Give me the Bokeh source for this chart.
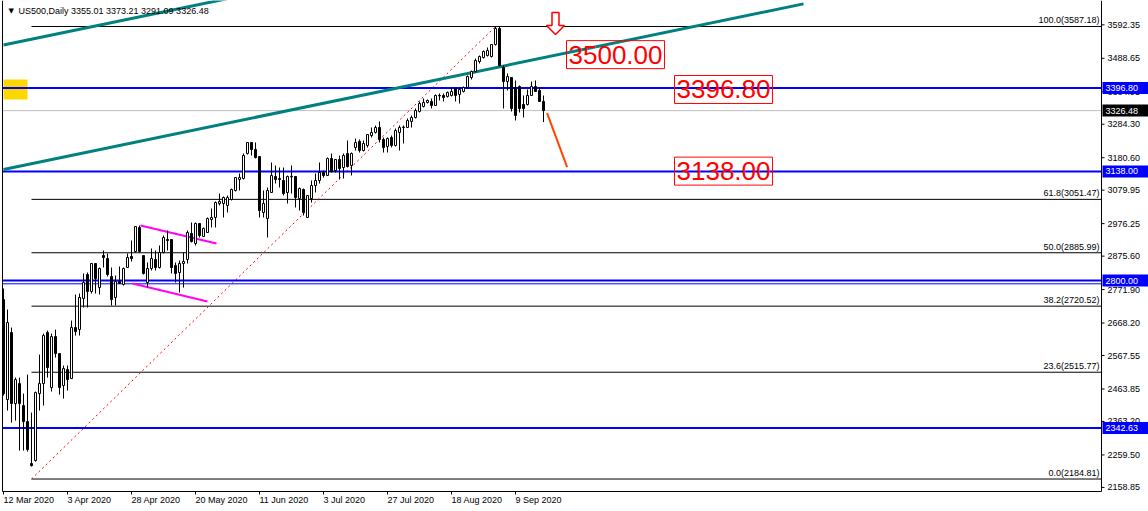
from bokeh.plotting import figure
from bokeh.models import Range1d, ColumnDataSource
from bokeh.embed import file_html
from bokeh.resources import INLINE
from bokeh.core.properties import value

# ---------------- data ----------------
opens = [2741.1, 2431.0, 2638.7, 2418.6, 2480.6, 2412.4, 2362.8, 2232.6, 2241.9, 2449.6,
         2480.6, 2638.7, 2468.2, 2626.3, 2573.6, 2474.4, 2524.0, 2496.1, 2654.2, 2648.0,
         2744.2, 2818.6, 2765.9, 2852.7, 2778.3, 2877.5, 2868.2, 2812.4, 2747.3, 2796.9,
         2787.6, 2840.3, 2874.4, 2889.9, 2964.3, 2877.5, 2793.8, 2837.2, 2865.1, 2840.3,
         2886.8, 2927.1, 2927.1, 2846.5, 2824.8, 2852.7, 2865.1, 2945.7, 2914.7, 2976.7,
         2936.4, 2948.8, 2989.1, 2995.3, 3038.6, 3038.6, 3032.5, 3051.0, 3078.9, 3113.0,
         3116.1, 3193.6, 3227.7, 3206.0, 3184.3, 3010.8, 2992.2, 3072.7, 3122.3, 3116.1,
         3109.9, 3072.7, 3121.0, 3122.3, 3054.1, 3082.0, 2995.3, 3054.1, 3094.4, 3109.9,
         3134.7, 3125.4, 3178.1, 3140.9, 3175.0, 3150.2, 3193.6, 3156.4, 3212.2, 3230.8,
         3202.9, 3218.4, 3249.4, 3258.7, 3274.2, 3237.0, 3215.3, 3243.2, 3218.4, 3258.7,
         3274.2, 3274.2, 3292.8, 3305.2, 3323.8, 3339.3, 3351.7, 3354.8, 3342.4, 3373.4,
         3373.4, 3370.3, 3373.4, 3395.1, 3376.5, 3385.8, 3398.2, 3429.1, 3447.7, 3478.7,
         3491.1, 3497.3, 3494.2, 3531.4, 3581.0, 3460.1, 3416.7, 3429.1, 3398.2, 3401.3,
         3345.5, 3345.5, 3373.4, 3401.3, 3388.9, 3355.01]
highs = [2775.2, 2710.0, 2654.2, 2499.2, 2499.2, 2449.6, 2508.5, 2390.7, 2455.8, 2570.5,
         2635.6, 2644.9, 2635.6, 2648.0, 2573.6, 2536.4, 2536.4, 2675.9, 2756.6, 2759.7,
         2821.7, 2824.8, 2852.7, 2852.7, 2840.3, 2893.0, 2883.7, 2840.3, 2815.5, 2843.4,
         2840.3, 2883.7, 2924.0, 2967.4, 2970.5, 2877.5, 2855.8, 2899.2, 2893.0, 2908.5,
         2939.5, 2955.0, 2927.1, 2855.8, 2862.0, 2886.8, 2955.0, 2979.8, 2979.8, 2976.7,
         2964.3, 2995.3, 3023.2, 3044.8, 3069.6, 3060.3, 3063.4, 3085.1, 3119.2, 3131.6,
         3193.6, 3227.7, 3227.7, 3227.7, 3184.3, 3078.9, 3088.2, 3165.7, 3156.4, 3150.2,
         3150.2, 3125.4, 3156.4, 3122.3, 3088.2, 3085.1, 3063.4, 3109.9, 3131.6, 3165.7,
         3140.9, 3181.2, 3193.6, 3175.0, 3187.4, 3193.6, 3233.9, 3196.7, 3240.1, 3237.0,
         3233.9, 3252.5, 3274.2, 3280.4, 3292.8, 3243.2, 3243.2, 3249.4, 3271.1, 3280.4,
         3280.4, 3302.1, 3311.4, 3333.1, 3354.8, 3364.1, 3361.0, 3364.1, 3376.5, 3379.6,
         3379.6, 3385.8, 3395.1, 3398.2, 3398.2, 3401.3, 3435.3, 3450.8, 3488.0, 3497.3,
         3512.8, 3522.1, 3531.4, 3587.2, 3587.2, 3466.3, 3441.5, 3429.1, 3419.8, 3404.4,
         3373.4, 3392.0, 3416.7, 3419.8, 3398.2, 3373.21]
lows = [2443.4, 2396.9, 2359.7, 2365.9, 2272.9, 2272.9, 2269.8, 2223.3, 2238.8, 2396.9,
        2412.4, 2499.2, 2455.8, 2561.2, 2446.5, 2434.1, 2458.9, 2496.1, 2629.4, 2629.4,
        2716.3, 2716.3, 2759.7, 2759.7, 2756.6, 2840.3, 2812.4, 2722.5, 2722.5, 2790.7,
        2784.5, 2840.3, 2858.9, 2886.8, 2886.8, 2818.6, 2778.3, 2831.0, 2831.0, 2837.2,
        2883.7, 2893.0, 2821.7, 2793.8, 2762.8, 2778.3, 2852.7, 2917.8, 2908.5, 2933.3,
        2936.4, 2948.8, 2964.3, 2964.3, 3032.5, 2995.3, 3010.8, 3047.9, 3075.8, 3078.9,
        3113.0, 3190.5, 3187.4, 3178.1, 2995.3, 2995.3, 2933.3, 3072.7, 3100.6, 3088.2,
        3063.4, 3038.6, 3069.6, 3026.3, 3017.0, 3001.5, 2995.3, 3041.7, 3072.7, 3100.6,
        3119.2, 3125.4, 3134.7, 3134.7, 3113.0, 3116.1, 3150.2, 3125.4, 3202.9, 3196.7,
        3199.8, 3212.2, 3243.2, 3255.6, 3227.7, 3196.7, 3196.7, 3212.2, 3215.3, 3202.9,
        3224.6, 3274.2, 3274.2, 3302.1, 3320.7, 3336.2, 3348.6, 3333.1, 3342.4, 3357.9,
        3354.8, 3367.2, 3370.3, 3354.8, 3348.6, 3382.7, 3395.1, 3422.9, 3444.6, 3472.5,
        3488.0, 3494.2, 3491.1, 3528.3, 3463.2, 3333.1, 3388.9, 3323.8, 3295.9, 3320.7,
        3305.2, 3342.4, 3373.4, 3385.8, 3354.8, 3291.09]
closes = [2449.6, 2669.7, 2418.6, 2493.0, 2418.6, 2362.8, 2276.0, 2226.4, 2452.7, 2480.6,
          2629.4, 2530.2, 2626.3, 2573.6, 2468.2, 2527.1, 2493.0, 2654.2, 2641.8, 2747.3,
          2793.8, 2765.9, 2852.7, 2806.2, 2837.2, 2871.3, 2818.6, 2741.1, 2796.9, 2790.7,
          2837.2, 2871.3, 2868.2, 2967.4, 2889.9, 2821.7, 2837.2, 2868.2, 2840.3, 2886.8,
          2933.3, 2924.0, 2840.3, 2821.7, 2852.7, 2858.9, 2948.8, 2920.9, 2976.7, 2939.5,
          2961.2, 2992.2, 2995.3, 3041.7, 3044.8, 3057.2, 3057.2, 3082.0, 3119.2, 3119.2,
          3187.4, 3227.7, 3206.0, 3181.2, 3017.0, 3038.6, 3078.9, 3125.4, 3113.0, 3113.0,
          3069.6, 3122.3, 3123.0, 3057.2, 3085.1, 3010.8, 3063.4, 3094.4, 3109.9, 3134.7,
          3125.4, 3178.1, 3137.8, 3175.0, 3147.1, 3187.4, 3153.3, 3193.6, 3227.7, 3202.9,
          3224.6, 3252.5, 3258.7, 3274.2, 3237.0, 3212.2, 3240.1, 3218.4, 3264.9, 3274.2,
          3275.5, 3295.9, 3305.2, 3326.9, 3348.6, 3351.7, 3357.9, 3342.4, 3373.4, 3372.0,
          3367.2, 3382.7, 3385.8, 3373.4, 3392.0, 3398.2, 3432.2, 3447.7, 3481.8, 3494.2,
          3509.7, 3512.8, 3531.4, 3581.0, 3466.3, 3416.7, 3432.2, 3333.1, 3311.4, 3333.1,
          3333.1, 3373.4, 3401.3, 3385.8, 3354.8, 3326.48]

date_ticks = [0, 16, 32, 48, 64, 80, 96, 112, 128]
date_labels = ["12 Mar 2020", "3 Apr 2020", "28 Apr 2020", "20 May 2020", "11 Jun 2020",
               "3 Jul 2020", "27 Jul 2020", "18 Aug 2020", "9 Sep 2020"]
price_ticks = [3592.35, 3488.65, 3384.95, 3284.30, 3180.60, 3079.95, 2976.25, 2875.60,
               2771.90, 2668.20, 2567.55, 2463.85, 2363.20, 2259.50, 2158.85]

fib_ratios = ["100.0", "61.8", "50.0", "38.2", "23.6", "0.0"]
fib_prices = [3587.18, 3051.47, 2885.99, 2720.52, 2515.77, 2184.81]
fib_bars = [7, 123]

blue_levels = [3396.80, 3138.00, 2800.00, 2342.63]
blue_thin_level = 2789.8
bid_price = 3326.48

channel_x = [0, 200]
channel_lower = [3144.0, 3657.2]
channel_upper = [3529.8, 4043.0]

proj_x = [135.9, 140.9]
proj_y = [3318.5, 3151.1]

mag_upper_x = [34.25, 53.25]
mag_upper_y = [2970.5, 2914.7]
mag_lower_x = [32.25, 51.0]
mag_lower_y = [2790.7, 2735.0]

target_texts = ["3500.00", "3396.80", "3138.00"]
target_x = [140.75, 167.75, 167.75]
target_y = [3500.0, 3392.0, 3139.0]

arrow_bar, arrow_tip = 138.0, 3562.4
yellow_box = dict(left=0.0, right=6.0, top=3422.9, bottom=3360.9)

title_text = "US500,Daily  3355.01 3373.21 3291.09 3326.48"

# ---------------- geometry (MetaTrader-like window) ----------------
W, H = 1148, 511
PX_BAR = 4.0            # pixels per bar
PX_PRICE = 3.099        # price units per pixel
XL = -0.75              # left edge of canvas (bars)
XR = XL + W / PX_BAR    # right edge of canvas
YT = 3667.75            # top of canvas (price)
YB = YT - H * PX_PRICE  # bottom of canvas
X_AX = 274.5            # right price-axis position (bars)
Y_AX = YT - 491 * PX_PRICE  # bottom time-axis position (price)
X_LEFT = -0.25          # chart left border

FONT = "Liberation Sans"
FS = "9px"
BIG_FONT = "Liberation Sans"


def dx(px):
    return px / PX_BAR


def dy(px):
    return px * PX_PRICE


p = figure(width=W, height=H, x_range=Range1d(XL, XR), y_range=Range1d(YB, YT),
           x_axis_location=None, y_axis_location=None, toolbar_location=None,
           output_backend="svg", min_border=0)
p.xgrid.visible = False
p.ygrid.visible = False
p.outline_line_color = None
p.background_fill_color = "white"
p.border_fill_color = "white"

# yellow box
p.quad(left=[yellow_box["left"]], right=[yellow_box["right"]], top=[yellow_box["top"]],
       bottom=[yellow_box["bottom"]], fill_color="#FFD700", line_color=None)

# bid line
p.segment(x0=[X_LEFT], x1=[X_AX], y0=[bid_price], y1=[bid_price], line_color="#C0C0C0",
          line_width=1)

# fibonacci levels
p.segment(x0=[fib_bars[0]] * len(fib_prices), x1=[X_AX] * len(fib_prices),
          y0=fib_prices, y1=fib_prices, line_color="black", line_width=1)
p.line(x=fib_bars, y=[fib_prices[-1], fib_prices[0]], line_color="red", line_width=1,
       line_dash="2 3")

# blue levels
p.segment(x0=[X_LEFT] * 4, x1=[X_AX] * 4, y0=blue_levels, y1=blue_levels,
          line_color="#0000FF", line_width=2)
p.segment(x0=[X_LEFT], x1=[X_AX], y0=[blue_thin_level], y1=[blue_thin_level],
          line_color="#0000FF", line_width=1)

# channel
p.line(x=channel_x, y=channel_lower, line_color="#008080", line_width=3)
p.line(x=channel_x, y=channel_upper, line_color="#008080", line_width=3)

# magenta
p.line(x=mag_upper_x, y=mag_upper_y, line_color="#FF00FF", line_width=2)
p.line(x=mag_lower_x, y=mag_lower_y, line_color="#FF00FF", line_width=2)

# candles
idx = list(range(len(opens)))
src = ColumnDataSource(dict(x=idx, o=opens, h=highs, l=lows, c=closes,
                            top=[max(a, b) for a, b in zip(opens, closes)],
                            bot=[min(a, b) for a, b in zip(opens, closes)],
                            fill=["white" if c >= o else "black"
                                  for o, c in zip(opens, closes)]))
p.segment(x0="x", x1="x", y0="l", y1="h", source=src, line_color="black", line_width=1)
p.vbar(x="x", width=0.5, top="top", bottom="bot", source=src, fill_color="fill",
       line_color="black", line_width=1)

# projection line
p.line(x=proj_x, y=proj_y, line_color="#FF4500", line_width=2)

# arrow (hollow, red)
shape = [(0, 0), (9, 9), (3.5, 9), (3.5, 22), (-3.5, 22), (-3.5, 9), (-9, 9)]
p.patch(x=[arrow_bar + dx(a) for a, b in shape], y=[arrow_tip + dy(b) for a, b in shape],
        fill_color="white", line_color="red", line_width=1.5)

# target labels
p.text(x=target_x, y=target_y, text=target_texts, text_color="red",
       text_font=value(BIG_FONT), text_font_size="26px", text_baseline="middle",
       text_align="left", border_line_color="red", border_line_width=1,
       padding=(2, 5))

# fib labels
p.text(x=[X_AX - dx(2)] * len(fib_prices), y=[v + dy(1) for v in fib_prices],
       text=[f"{r}({v:.2f})" for r, v in zip(fib_ratios, fib_prices)], text_color="black",
       text_font=value(FONT), text_font_size=FS, text_align="right", text_baseline="bottom")

# frame lines / axes
p.segment(x0=[X_LEFT, X_AX, X_LEFT], x1=[X_LEFT, X_AX, X_AX], y0=[Y_AX, Y_AX, Y_AX],
          y1=[YT, YT, Y_AX], line_color="black", line_width=1)

# right price axis
p.segment(x0=[X_AX] * len(price_ticks), x1=[X_AX + dx(3)] * len(price_ticks),
          y0=price_ticks, y1=price_ticks, line_color="black", line_width=1)
p.text(x=[X_AX + dx(6)] * len(price_ticks), y=price_ticks,
       text=[f"{v:.2f}" for v in price_ticks], text_color="black", text_font=value(FONT),
       text_font_size=FS, text_baseline="middle", text_align="left")

# bottom time axis
p.segment(x0=date_ticks, x1=date_ticks, y0=[Y_AX] * len(date_ticks),
          y1=[Y_AX - dy(3)] * len(date_ticks), line_color="black", line_width=1)
p.text(x=date_ticks, y=[Y_AX - dy(8)] * len(date_ticks), text=date_labels,
       text_color="black", text_font=value(FONT), text_font_size=FS,
       text_baseline="middle", text_align="left")

# price tags
tag_vals = [blue_levels[0], bid_price, blue_levels[1], blue_levels[2], blue_levels[3]]
tag_cols = ["#0000FF", "black", "#0000FF", "#0000FF", "#0000FF"]
p.quad(left=[X_AX + dx(1)] * 5, right=[XR] * 5, top=[v + dy(6) for v in tag_vals],
       bottom=[v - dy(6) for v in tag_vals], fill_color=tag_cols, line_color=None)
p.text(x=[X_AX + dx(4)] * 5, y=tag_vals, text=[f"{v:.2f}" for v in tag_vals],
       text_color="white", text_font=value(FONT), text_font_size=FS,
       text_baseline="middle", text_align="left")

# title
p.text(x=[X_LEFT + dx(6)], y=[YT - dy(10)], text=["\u25BC"], text_color="black",
       text_font=value("DejaVu Sans"), text_font_size="7px", text_baseline="middle")
p.text(x=[X_LEFT + dx(16)], y=[YT - dy(10)], text=[title_text], text_color="black",
       text_font=value(FONT), text_font_size=FS, text_baseline="middle")

open("out.html", "w").write(file_html(p, INLINE))
